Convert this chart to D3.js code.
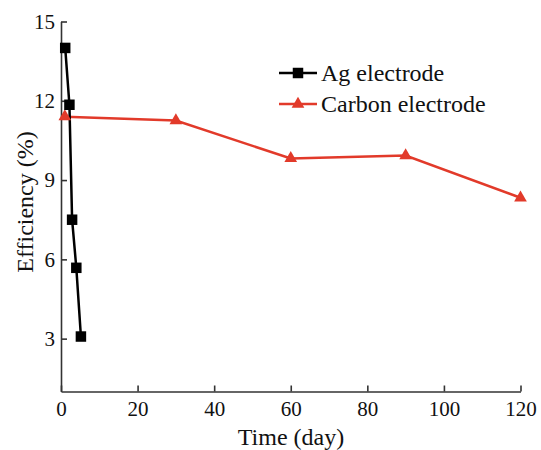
<!DOCTYPE html>
<html><head><meta charset="utf-8">
<script src="https://cdn.jsdelivr.net/npm/d3@7"></script>
<style>body{margin:0;background:#fff}svg{display:block}</style>
</head><body>
<svg id="c" width="541" height="450"></svg>
<script>
const agDays = [1.1, 2.2, 2.9, 4.0, 5.2];
const agEff = [14.0, 11.85, 7.5, 5.68, 3.08];
const carbonDays = [1, 30, 60, 90, 120];
const carbonEff = [11.4, 11.25, 9.82, 9.93, 8.33];
const xTicks = [0, 20, 40, 60, 80, 100, 120];
const yTicks = [3, 6, 9, 12, 15];
const seriesNames = ["Ag electrode", "Carbon electrode"];

const svg = d3.select("#c");
const font = "'Liberation Serif', 'Times New Roman', serif";
const x = d3.scaleLinear().domain([0, 120]).range([61, 520.5]);
const y = d3.scaleLinear().domain([1, 15]).range([391.5, 21.5]);
const red = "#e23a2a";

const xa = svg.append("g").attr("transform", "translate(0,391.5)")
  .call(d3.axisBottom(x).tickValues(xTicks).tickSizeInner(-6).tickSizeOuter(0).tickPadding(10));
const ya = svg.append("g").attr("transform", "translate(61,0)")
  .call(d3.axisLeft(y).tickValues(yTicks).tickSizeInner(-6).tickSizeOuter(0).tickPadding(6));
[xa, ya].forEach(a => {
  a.selectAll("path,line").attr("stroke", "#333").attr("stroke-width", 1.6);
  a.selectAll("text").attr("font-family", font).attr("font-size", 21).attr("fill", "#111");
});

const ag = agDays.map((d, i) => [d, agEff[i]]);
const cb = carbonDays.map((d, i) => [d, carbonEff[i]]);
const line = d3.line().x(d => x(d[0])).y(d => y(d[1]));

svg.append("path").datum(cb).attr("d", line).attr("fill", "none").attr("stroke", red).attr("stroke-width", 2.5);
svg.append("path").datum(ag).attr("d", line).attr("fill", "none").attr("stroke", "#000").attr("stroke-width", 2.5);

const tri = d3.symbol().type(d3.symbolTriangle).size(70);
const sq = d3.symbol().type(d3.symbolSquare).size(110);
svg.selectAll(".cb").data(cb).enter().append("path")
  .attr("d", tri).attr("fill", red)
  .attr("transform", d => `translate(${x(d[0])},${y(d[1])})`);
svg.selectAll(".ag").data(ag).enter().append("path")
  .attr("d", sq).attr("fill", "#000")
  .attr("transform", d => `translate(${x(d[0])},${y(d[1])})`);

// legend
const lg = svg.append("g");
const lx1 = 279, lx2 = 317;
[[73, "#000", sq], [104, red, tri]].forEach((r, i) => {
  lg.append("line").attr("x1", lx1).attr("x2", lx2).attr("y1", r[0]).attr("y2", r[0])
    .attr("stroke", r[1]).attr("stroke-width", 2.5);
  lg.append("path").attr("d", r[2]).attr("fill", r[1])
    .attr("transform", `translate(${(lx1 + lx2) / 2},${r[0]})`);
  lg.append("text").attr("x", 321).attr("y", r[0] + 8).text(seriesNames[i])
    .attr("font-family", font).attr("font-size", 24).attr("fill", "#111");
});

svg.append("text").attr("x", 291).attr("y", 445).attr("text-anchor", "middle")
  .attr("font-family", font).attr("font-size", 24).attr("fill", "#111").text("Time (day)");
svg.append("text").attr("transform", "translate(33,202) rotate(-90)").attr("text-anchor", "middle")
  .attr("font-family", font).attr("font-size", 24).attr("fill", "#111").text("Efficiency (%)");
</script>
</body></html>
